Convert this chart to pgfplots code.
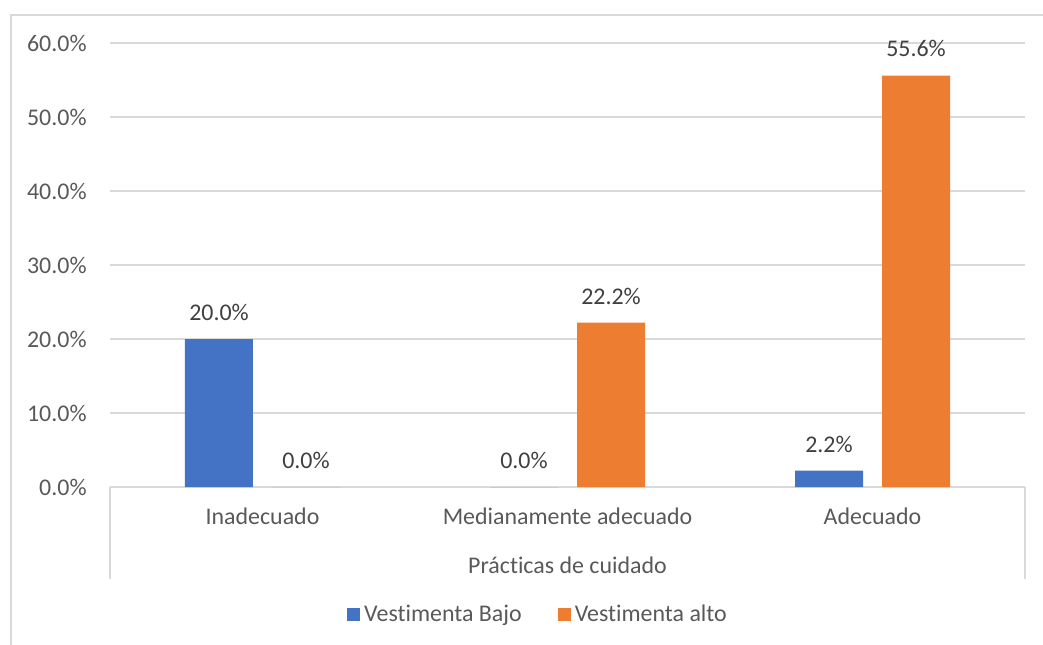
\documentclass[border=0pt]{standalone}
\usepackage{pgfplots}
\pgfplotsset{compat=1.18}
\usepackage{fontspec}
\setmainfont{Carlito}[Ligatures={NoCommon}]
\definecolor{barblue}{HTML}{4472C4}
\definecolor{barorange}{HTML}{ED7D31}
\definecolor{txtgray}{HTML}{595959}
\definecolor{lblgray}{HTML}{404040}
\definecolor{gridgray}{HTML}{D9D9D9}

\begin{document}
\begin{tikzpicture}[font=\fontsize{12}{14}\selectfont]
\useasboundingbox (-55bp,-79bp) rectangle (466.5bp,243.5bp);
\fill[white] (-55bp,-79bp) rectangle (466.5bp,243.5bp);
\draw[gridgray, line width=0.75bp] (-49.5bp,-79bp) -- (-49.5bp,236bp) -- (466.5bp,236bp);
\begin{axis}[
    at={(0,0)}, anchor=south west,
    scale only axis,
    width=457.5bp, height=222bp,
    ybar,
    bar width=34bp,
    xmin=-0.5, xmax=2.5,
    ymin=0, ymax=60,
    xtick={0,1,2},
    xticklabels={Inadecuado, Medianamente adecuado, Adecuado},
    ytick={0,10,...,60},
    yticklabel={\pgfmathprintnumber[fixed,fixed zerofill,precision=1]{\tick}\%},
    /pgf/number format/assume math mode=true,
    ymajorgrids=true,
    grid style={gridgray, line width=0.75bp},
    major tick length=0pt,
    axis x line*=bottom,
    axis y line*=left,
    axis line style={-},
    x axis line style={gridgray, line width=0.75bp},
    y axis line style={draw=none},
    ticklabel style={text=txtgray},
    yticklabel style={inner sep=0pt, xshift=-11.5bp},
    xticklabel style={inner sep=0pt, yshift=-10bp},
    clip=false,
    nodes near coords={\pgfmathprintnumber[fixed,fixed zerofill,precision=1]{\pgfplotspointmeta}\%},
    nodes near coords style={text=lblgray, inner sep=0pt, anchor=south, yshift=9bp},
    legend columns=2,
    legend style={draw=none, fill=none, at={(0.4689,-0.288)}, anchor=center,
        text=txtgray, inner sep=0pt,
        /tikz/every even column/.append style={column sep=16bp},
        nodes={inner sep=2bp}},
    legend image code/.code={\fill[#1] (0bp,-3.25bp) rectangle (6.5bp,3.25bp);},
]
\addplot[fill=barblue, draw=none, bar shift=-21.75bp] coordinates {(0,20.0) (1,0.0) (2,2.2)};
\addlegendentry{Vestimenta Bajo}
\addplot[fill=barorange, draw=none, bar shift=21.75bp] coordinates {(0,0.0) (1,22.2) (2,55.6)};
\addlegendentry{Vestimenta alto}
\draw[gridgray, line width=0.75bp] (axis cs:-0.5,0) -- ([yshift=-46bp]axis cs:-0.5,0);
\draw[gridgray, line width=0.75bp] (axis cs:2.5,0) -- ([yshift=-46bp]axis cs:2.5,0);
\node[text=txtgray] at ([yshift=-39bp]axis cs:1,0) {Prácticas de cuidado};
\end{axis}
\end{tikzpicture}
\end{document}
